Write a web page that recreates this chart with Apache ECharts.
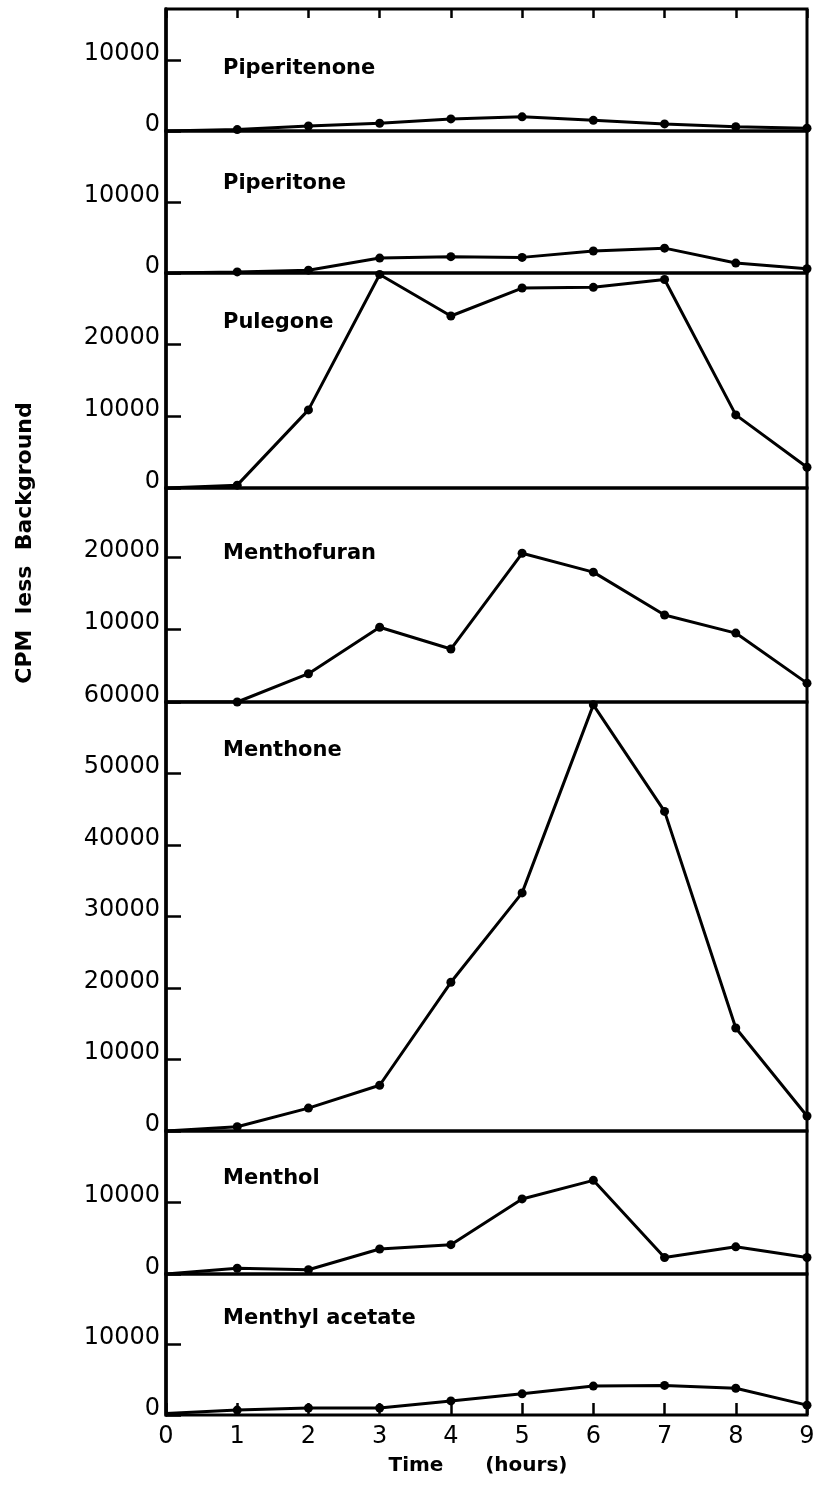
<!DOCTYPE html>
<html>
<head>
<meta charset="utf-8">
<script src="https://cdn.jsdelivr.net/npm/echarts@6/dist/echarts.min.js"></script>
<style>
  html, body { margin: 0; padding: 0; background: #fff; }
  #chart { width: 820px; height: 1489px; }
</style>
</head>
<body>
<div id="chart"></div>
<script>
// ---- data ----
const times = [0, 1, 2, 3, 4, 5, 6, 7, 8, 9];
const compounds = ['Piperitenone', 'Piperitone', 'Pulegone', 'Menthofuran', 'Menthone', 'Menthol', 'Menthyl acetate'];
const piperitenone   = [0, 200, 700, 1100, 1700, 2000, 1500, 1000, 600, 400];
const piperitone     = [0, 150, 400, 2100, 2300, 2200, 3100, 3500, 1400, 600];
const pulegone       = [0, 400, 10900, 29800, 24000, 27900, 28000, 29100, 10200, 2900];
const menthofuran    = [0, 0, 3900, 10300, 7300, 20500, 17900, 12000, 9500, 2600];
const menthone       = [0, 600, 3200, 6400, 20800, 33300, 59600, 44700, 14400, 2100];
const menthol        = [0, 800, 600, 3500, 4100, 10500, 13100, 2300, 3800, 2300];
const menthylAcetate = [200, 700, 1000, 1000, 2000, 3000, 4100, 4200, 3800, 1400];
const seriesValues = [piperitenone, piperitone, pulegone, menthofuran, menthone, menthol, menthylAcetate];
const yMax = [17200, 20000, 30000, 29500, 60000, 20000, 20000];
const yTickStep = 10000;
const xTickLabels = ['0', '1', '2', '3', '4', '5', '6', '7', '8', '9'];
const yTitle = 'CPM  less  Background';
const xTitle = 'Time      (hours)';

// ---- layout (pixels) ----
const panelTop    = [9, 131, 273, 488, 702, 1131, 1274];
const panelBottom = [131, 273, 488, 702, 1131, 1274, 1415];
const nameY       = [69, 184, 323, 554, 751, 1179, 1319];
const showMinLbl  = [true, true, true, false, true, true, true];
const showMaxLbl  = [false, false, false, false, true, false, false];

const FONT = 'DejaVu Sans';
const n = compounds.length;
const grids = [], xAxes = [], yAxes = [], series = [], graphics = [];

for (let i = 0; i < n; i++) {
  grids.push({
    left: 166, right: 13, top: panelTop[i], height: panelBottom[i] - panelTop[i],
    show: true, borderColor: '#000', borderWidth: 3, backgroundColor: 'transparent'
  });
  const isLast = i === n - 1;
  xAxes.push({
    type: 'value', gridIndex: i, min: 0, max: 9, interval: 1, position: 'bottom',
    axisLine: { show: false },
    splitLine: { show: false },
    axisTick: { show: isLast, inside: true, length: 12, lineStyle: { color: '#000', width: 2.5 } },
    axisLabel: {
      show: isLast, margin: 10, color: '#000', fontFamily: FONT, fontSize: 24,
      formatter: v => xTickLabels[Math.round(v)]
    }
  });
  yAxes.push({
    type: 'value', gridIndex: i, min: 0, max: yMax[i], interval: yTickStep,
    axisLine: { show: true, lineStyle: { color: '#000', width: 3.5 } },
    splitLine: { show: false },
    axisTick: { show: true, inside: true, length: 15, lineStyle: { color: '#000', width: 2.5 } },
    axisLabel: {
      show: true, margin: 6, color: '#000', fontFamily: FONT, fontSize: 24,
      verticalAlign: 'bottom', lineHeight: 13,
      showMinLabel: showMinLbl[i], showMaxLabel: showMaxLbl[i],
      formatter: v => String(v)
    }
  });
  series.push({
    type: 'line', name: compounds[i], xAxisIndex: i, yAxisIndex: i,
    data: times.map((t, k) => [t, seriesValues[i][k]]),
    symbol: 'circle',
    symbolSize: (val, p) => (p.dataIndex === 0 ? 0 : 9),
    itemStyle: { color: '#000' },
    lineStyle: { color: '#000', width: 3 },
    silent: true, animation: false
  });
  graphics.push({
    type: 'text', x: 223, y: nameY[i],
    style: { text: compounds[i], fill: '#000', font: 'bold 21px "DejaVu Sans"', textAlign: 'left', textVerticalAlign: 'middle' }
  });
}

// top tick marks on the first panel
xAxes.push({
  type: 'value', gridIndex: 0, min: 0, max: 9, interval: 1, position: 'top',
  axisLine: { show: false }, splitLine: { show: false },
  axisTick: { show: true, inside: true, length: 9, lineStyle: { color: '#000', width: 2.5 } },
  axisLabel: { show: false }
});

graphics.push({
  type: 'text', x: 25, y: 543, rotation: Math.PI / 2,
  style: { text: yTitle, fill: '#000', font: 'bold 22px "DejaVu Sans"', textAlign: 'center', textVerticalAlign: 'middle' }
});
graphics.push({
  type: 'text', x: 478, y: 1466,
  style: { text: xTitle, fill: '#000', font: 'bold 20px "DejaVu Sans"', textAlign: 'center', textVerticalAlign: 'middle' }
});

const chart = echarts.init(document.getElementById('chart'), null, { renderer: 'canvas' });
chart.setOption({
  backgroundColor: '#fff',
  animation: false,
  grid: grids,
  xAxis: xAxes,
  yAxis: yAxes,
  series: series,
  graphic: graphics
});
</script>
</body>
</html>
